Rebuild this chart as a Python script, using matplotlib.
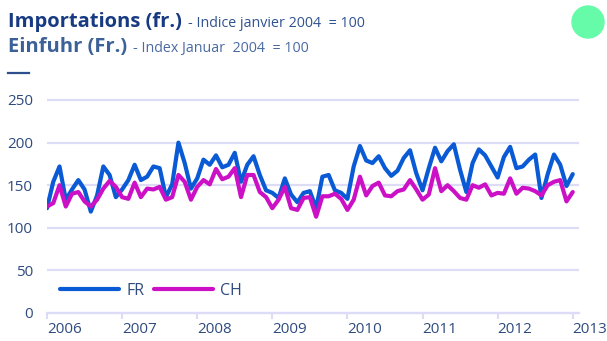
import matplotlib
matplotlib.use("Agg")
import matplotlib.pyplot as plt
from matplotlib.patches import Ellipse
from matplotlib.lines import Line2D
import numpy as np

# Monthly import index (January 2004 = 100), Jan 2006 .. Jan 2013
years = ["2006", "2007", "2008", "2009", "2010", "2011", "2012", "2013"]
fr = [123, 154, 172, 133, 145, 156, 145, 119, 138, 172, 162, 136,
      145, 156, 174, 156, 160, 172, 170, 136, 151, 200, 176, 146,
      158, 180, 174, 185, 171, 174, 188, 154, 174, 184, 162, 144,
      141, 135, 158, 139, 130, 141, 143, 123, 160, 162, 144, 141,
      134, 172, 196, 179, 176, 184, 170, 161, 167, 182, 191, 164,
      144, 170, 194, 178, 190, 198, 168, 142, 176, 192, 185, 172,
      159, 183, 195, 170, 172, 180, 186, 135, 163, 186, 174, 149,
      163]
ch = [125, 129, 150, 125, 140, 142, 131, 125, 133, 146, 155, 148,
      136, 134, 153, 136, 146, 145, 148, 133, 136, 162, 154, 133,
      148, 156, 151, 169, 157, 160, 170, 136, 162, 162, 142, 136,
      123, 133, 148, 123, 121, 135, 136, 113, 137, 137, 140, 134,
      121, 133, 160, 138, 149, 153, 138, 137, 143, 145, 156, 145,
      133, 139, 170, 143, 150, 143, 135, 133, 150, 147, 151, 138,
      141, 140, 158, 140, 147, 146, 143, 138, 150, 154, 156, 131,
      142]
y_ticks = [0, 50, 100, 150, 200, 250]

BLUE = "#0a5ad6"
MAGENTA = "#cc10c6"
GRID = "#dcdcf7"
TEXT = "#2e4b7e"

W, H = 607, 341
fig = plt.figure(figsize=(W / 100, H / 100), dpi=100)
plt.rcParams["font.family"] = ["Open Sans", "DejaVu Sans"]

# axes geometry in pixels: value 0 at y=313, value 250 at y=100
px_per_unit = (313 - 100) / 250
y_lo, y_hi = -3, 253
top_px = 313 - y_hi * px_per_unit
bot_px = 313 - y_lo * px_per_unit
left_px, right_px = 47, 579
ax = fig.add_axes([left_px / W, 1 - bot_px / H,
                   (right_px - left_px) / W, (bot_px - top_px) / H])

months = np.arange(len(fr))
ax.plot(months, fr, color=BLUE, lw=3.0, solid_joinstyle="round",
        solid_capstyle="round", label="FR", zorder=3)
ax.plot(months, ch, color=MAGENTA, lw=3.0, solid_joinstyle="round",
        solid_capstyle="round", label="CH", zorder=3)

ax.set_xlim(0, 85)
ax.set_ylim(y_lo, y_hi)

ax.set_yticks(y_ticks)
ax.yaxis.grid(True, color=GRID, lw=1.6)
ax.set_axisbelow(True)
for s in ("top", "right", "left"):
    ax.spines[s].set_visible(False)
ax.spines["bottom"].set_position(("data", 0))
ax.spines["bottom"].set_color(GRID)
ax.spines["bottom"].set_linewidth(1.6)

ax.set_xticks(np.arange(0, 12 * len(years), 12))
ax.set_xticklabels(years)
for lbl in ax.get_xticklabels():
    lbl.set_horizontalalignment("left")
ax.tick_params(axis="x", direction="out", length=4, width=1.5, color=GRID,
               pad=2.5, labelsize=11, labelcolor=TEXT)
ax.tick_params(axis="y", length=0, pad=10, labelsize=11, labelcolor=TEXT)

leg = ax.legend(loc="center left",
                bbox_to_anchor=((60 - left_px) / (right_px - left_px),
                                (bot_px - 291) / (bot_px - top_px)),
                ncol=2, frameon=False, borderpad=0, borderaxespad=0,
                handlelength=3.7, handletextpad=0.45, columnspacing=0.6,
                fontsize=11.5)
for t in leg.get_texts():
    t.set_color(TEXT)

# heading: bold title followed by a lighter subtitle on the same line
def heading(y_px, title, subtitle, tcolor, scolor):
    t = fig.text(8 / W, 1 - y_px / H, title, fontsize=14.5, fontweight="bold",
                 color=tcolor, va="baseline", ha="left")
    fig.canvas.draw()
    bb = t.get_window_extent()
    fig.text((bb.x1 + 6) / W, 1 - y_px / H, subtitle, fontsize=10.3,
             color=scolor, va="baseline", ha="left")

heading(27, "Importations (fr.)", "- Indice janvier 2004  = 100",
        "#173a82", "#2f5290")
heading(52, "Einfuhr (Fr.)", "- Index Januar  2004  = 100",
        "#3c6198", "#4a6aa2")

fig.add_artist(Line2D([8 / W, 29 / W], [1 - 73 / H, 1 - 73 / H],
                      color="#2d4f8a", lw=1.6, transform=fig.transFigure))
fig.add_artist(Ellipse((588 / W, 1 - 22 / H), 32 / W, 32 / H,
                       color="#66fba8", transform=fig.transFigure))

fig.savefig("out.png", dpi=100)
